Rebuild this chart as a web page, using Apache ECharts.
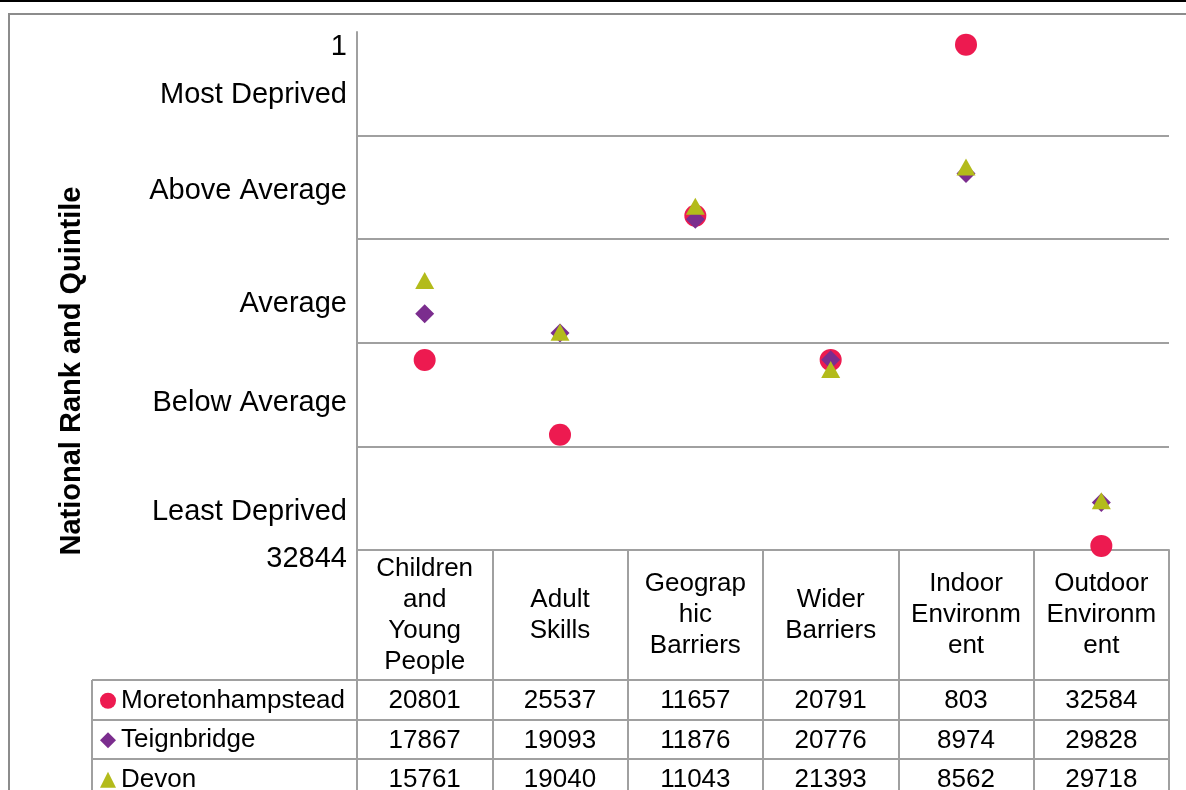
<!DOCTYPE html>
<html><head><meta charset="utf-8">
<script src="https://cdn.jsdelivr.net/npm/echarts@6/dist/echarts.min.js"></script>
<style>html,body{margin:0;padding:0;background:#fff}#c{width:1186px;height:790px}</style>
</head><body><div id="c"></div>
<script>
// ---- data ----
const categories = ['Children\nand\nYoung\nPeople', 'Adult\nSkills', 'Geograp\nhic\nBarriers', 'Wider\nBarriers', 'Indoor\nEnvironm\nent', 'Outdoor\nEnvironm\nent'];
const seriesNames = ['Moretonhampstead', 'Teignbridge', 'Devon'];
const moretonhampstead = [20801, 25537, 11657, 20791, 803, 32584];
const teignbridge = [17867, 19093, 11876, 20776, 8974, 29828];
const devon = [15761, 19040, 11043, 21393, 8562, 29718];
const rankMin = 1;
const rankMax = 32844;
const quintileBounds = [6569, 13138, 19706, 26275];
const quintileLabels = ['Most Deprived', 'Above Average', 'Average', 'Below Average', 'Least Deprived'];
const yTitle = 'National Rank and Quintile';

(function () {
// ---- styles ----
const FONT = '"Liberation Sans", Arial, sans-serif';
const GRID_COLOR = '#a0a0a0';
const colors = ['#ED1A50', '#7B2D8E', '#B3BB1B'];
const symbols = ['circle', 'diamond', 'triangle'];
const symbolSizes = [22, 19, [19, 17]];
const allData = [moretonhampstead, teignbridge, devon];

const chart = echarts.init(document.getElementById('c'), null, {renderer: 'canvas'});

const series = seriesNames.map((name, s) => ({
  name, type: 'scatter', data: allData[s],
  symbol: symbols[s], symbolSize: symbolSizes[s],
  itemStyle: {color: colors[s], opacity: 1},
  z: 3 + s,
  markLine: s === 0 ? {
    silent: true, symbol: 'none', label: {show: false},
    lineStyle: {color: GRID_COLOR, type: 'solid', width: 2},
    emphasis: {disabled: true},
    animation: false,
    data: quintileBounds.map(v => ({yAxis: v}))
  } : undefined
}));

chart.setOption({
  animation: false,
  textStyle: {fontFamily: FONT},
  grid: {left: 357, right: 17, top: 32, bottom: 240, containLabel: false},
  xAxis: {
    type: 'category', data: categories, boundaryGap: true,
    axisLine: {show: true, lineStyle: {color: GRID_COLOR, width: 2}},
    axisTick: {show: true, length: 240, lineStyle: {color: GRID_COLOR, width: 2}},
    axisLabel: {interval: 0, margin: 65, verticalAlign: 'middle', lineHeight: 31, fontSize: 26, color: '#000', fontFamily: FONT},
    splitLine: {show: false}
  },
  yAxis: {
    type: 'value', inverse: true, min: rankMin, max: rankMax,
    axisLine: {show: true, lineStyle: {color: GRID_COLOR, width: 2}},
    axisTick: {show: false}, axisLabel: {show: false}, splitLine: {show: false}
  },
  legend: {
    orient: 'vertical', left: 100, top: 681, height: 160, width: 260, itemGap: 0, itemWidth: 16, itemHeight: 16,
    selectedMode: false, padding: 0,
    textStyle: {fontSize: 26, lineHeight: 39.5, color: '#000', fontFamily: FONT},
    data: seriesNames.map((n, s) => ({name: n, icon: symbols[s]}))
  },
  series
});

// ---- table & labels layout ----
const yPix = v => chart.convertToPixel({yAxisIndex: 0}, v);
const xPix = i => chart.convertToPixel({xAxisIndex: 0}, i);
const plotTop = yPix(rankMin), plotBottom = yPix(rankMax);
const right = 1169;
const rowTops = [680, 720, 759, 798];
const graphics = [];
// frame
graphics.push({type: 'line', shape: {x1: 0, y1: 1, x2: 1186, y2: 1}, style: {stroke: '#000', lineWidth: 2}, silent: true});
graphics.push({type: 'rect', shape: {x: 9, y: 14, width: 1200, height: 800}, style: {fill: 'none', stroke: '#8c8c8c', lineWidth: 2}, silent: true, z: -1});
// table grid lines
rowTops.slice(0, 3).forEach(y => graphics.push({type: 'line', shape: {x1: 92, y1: y, x2: right, y2: y}, style: {stroke: GRID_COLOR, lineWidth: 2}, silent: true}));
graphics.push({type: 'line', shape: {x1: 92, y1: rowTops[0], x2: 92, y2: 790}, style: {stroke: GRID_COLOR, lineWidth: 2}, silent: true});
// table values
allData.forEach((arr, s) => {
  const cy = (rowTops[s] + rowTops[s + 1]) / 2 + 1;
  arr.forEach((v, i) => graphics.push({
    type: 'text', x: xPix(i), y: cy,
    style: {text: String(v), fontSize: 26, fontFamily: FONT, fill: '#000', align: 'center', verticalAlign: 'middle'}, silent: true
  }));
});
// y labels
const h = plotBottom - plotTop;
const yLabelFrac = [0.0251, 0.1178, 0.3031, 0.5212, 0.7124, 0.9228, 1.0135];
const yTexts = [String(rankMin)].concat(quintileLabels, [String(rankMax)]);
yTexts.forEach((t, k) => graphics.push({
  type: 'text', x: 347, y: plotTop + yLabelFrac[k] * h + 2,
  style: {text: t, fontSize: 29, fontFamily: FONT, fill: '#000', align: 'right', verticalAlign: 'middle'}, silent: true
}));
// y title
graphics.push({
  type: 'text', x: 72, y: 371, rotation: Math.PI / 2,
  style: {text: yTitle, fontSize: 29, fontWeight: 'bold', fontFamily: FONT, fill: '#000', align: 'center', verticalAlign: 'middle'}, silent: true
});
chart.setOption({graphic: graphics});
})();
</script>
</body></html>
